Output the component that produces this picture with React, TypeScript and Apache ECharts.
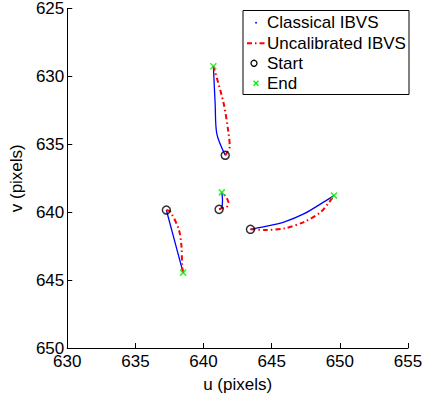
import React, { useEffect, useRef } from "react";
import * as echarts from "echarts";

const xTicks = [630, 635, 640, 645, 650, 655];
const yTicks = [625, 630, 635, 640, 645, 650];

const classical1 = [[641.59, 635.81], [640.97, 634.22], [640.85, 632.0], [640.72, 629.25]];
const uncal1 = [[641.59, 635.81], [641.92, 635.16], [641.82, 634.08], [641.46, 631.92], [640.72, 629.25]];
const classical2 = [[637.27, 639.84], [638.5, 644.45]];
const uncal2 = [[637.27, 639.84], [637.58, 639.99], [638.19, 641.3], [638.38, 642.51], [638.43, 643.95], [638.5, 644.45]];
const classical3 = [[641.14, 639.79], [641.34, 639.63], [641.39, 639.1], [641.34, 638.54]];
const uncal3 = [[641.14, 639.79], [641.46, 639.68], [641.7, 639.63], [641.82, 639.27], [641.63, 638.85], [641.34, 638.54]];
const classical4 = [[643.44, 641.26], [644.48, 641.07], [645.94, 640.71], [647.39, 640.11], [648.6, 639.39], [649.57, 638.78]];
const uncal4 = [[643.44, 641.26], [644.48, 641.31], [645.94, 641.19], [647.39, 640.71], [648.6, 639.99], [649.21, 639.27], [649.57, 638.78]];
const starts = [[641.59, 635.81], [637.27, 639.84], [641.14, 639.79], [643.44, 641.26]];
const ends = [[640.72, 629.25], [638.5, 644.45], [641.34, 638.54], [649.57, 638.78]];

const legendNames = ["Classical IBVS", "Uncalibrated IBVS", "Start", "End"];

const FONT = "'Liberation Sans', Arial, Helvetica, sans-serif";

export default function App() {
  const ref = useRef<HTMLDivElement>(null);
  useEffect(() => {
    if (!ref.current) return;
    const chart = echarts.init(ref.current, undefined, { renderer: "svg" });
    const classicals = [classical1, classical2, classical3, classical4];
    const uncals = [uncal1, uncal2, uncal3, uncal4];
    const series: any[] = [];
    classicals.forEach((d) => {
      series.push({
        name: legendNames[0],
        type: "line",
        data: d,
        symbol: "none",
        smooth: 0.3,
        lineStyle: { color: "#0000ff", width: 1.3 },
        z: 2,
      });
    });
    uncals.forEach((d) => {
      series.push({
        name: legendNames[1],
        type: "line",
        data: d,
        symbol: "none",
        smooth: 0.3,
        lineStyle: { color: "#ff0000", width: 2, type: [5, 3, 1.5, 3] },
        z: 3,
      });
    });
    series.push({
      name: legendNames[2],
      type: "scatter",
      data: starts,
      symbol: "circle",
      symbolSize: 8,
      itemStyle: { color: "rgba(0,0,0,0)", borderColor: "#000", borderWidth: 1.5 },
      z: 4,
    });
    series.push({
      name: legendNames[3],
      type: "scatter",
      data: ends,
      symbol: "path://M0,0L10,10M10,0L0,10",
      symbolSize: 6,
      itemStyle: { color: "rgba(0,0,0,0)", borderColor: "#00ee00", borderWidth: 1.5 },
      z: 5,
    });

    const rowY = [22.7, 43.3, 63.3, 83.3];
    const graphic: any[] = [
      {
        type: "rect",
        shape: { x: 243, y: 10.5, width: 166, height: 84 },
        style: { fill: "#fff", stroke: "#000", lineWidth: 1 },
        z: 100,
      },
      {
        type: "circle",
        shape: { cx: 256, cy: rowY[0], r: 0.9 },
        style: { fill: "#0000ff" },
        z: 101,
      },
      {
        type: "line",
        shape: { x1: 247, y1: rowY[1], x2: 265, y2: rowY[1] },
        style: { stroke: "#ff0000", lineWidth: 2, lineDash: [5, 3, 1.5, 3] },
        z: 101,
      },
      {
        type: "circle",
        shape: { cx: 254, cy: rowY[2], r: 3 },
        style: { fill: "none", stroke: "#000", lineWidth: 1.3 },
        z: 101,
      },
      {
        type: "line",
        shape: { x1: 253.5, y1: rowY[3] - 2.5, x2: 258.5, y2: rowY[3] + 2.5 },
        style: { stroke: "#00ee00", lineWidth: 1.3 },
        z: 101,
      },
      {
        type: "line",
        shape: { x1: 258.5, y1: rowY[3] - 2.5, x2: 253.5, y2: rowY[3] + 2.5 },
        style: { stroke: "#00ee00", lineWidth: 1.3 },
        z: 101,
      },
    ];
    legendNames.forEach((n, i) => {
      graphic.push({
        type: "text",
        x: 267,
        y: rowY[i],
        style: {
          text: n,
          fill: "#000",
          font: `17px ${FONT}`,
          verticalAlign: "middle",
          align: "left",
        },
        z: 101,
      });
    });

    chart.setOption({
      animation: false,
      backgroundColor: "#fff",
      grid: { left: 64, right: 22, top: 8, bottom: 44 },
      xAxis: {
        type: "value",
        min: xTicks[0],
        max: xTicks[xTicks.length - 1],
        interval: 5,
        name: "u (pixels)",
        nameLocation: "middle",
        nameGap: 28,
        nameTextStyle: { fontSize: 17, fontFamily: FONT, color: "#000" },
        axisLine: { show: true, lineStyle: { color: "#000", width: 1 } },
        axisTick: { show: true, inside: true, length: 5, lineStyle: { color: "#000" } },
        axisLabel: { fontSize: 17, fontFamily: FONT, color: "#000", margin: 5 },
        splitLine: { show: false },
      },
      yAxis: {
        type: "value",
        inverse: true,
        min: yTicks[0],
        max: yTicks[yTicks.length - 1],
        interval: 5,
        name: "v (pixels)",
        nameLocation: "middle",
        nameGap: 42,
        nameRotate: 90,
        nameTextStyle: { fontSize: 17, fontFamily: FONT, color: "#000" },
        axisLine: { show: true, lineStyle: { color: "#000", width: 1 } },
        axisTick: { show: true, inside: true, length: 5, lineStyle: { color: "#000" } },
        axisLabel: { fontSize: 17, fontFamily: FONT, color: "#000", margin: 3 },
        splitLine: { show: false },
      },
      series,
      graphic,
    });
    return () => chart.dispose();
  }, []);
  return <div ref={ref} style={{ width: 430, height: 398, position: "fixed", left: 0, top: 0 }} />;
}
